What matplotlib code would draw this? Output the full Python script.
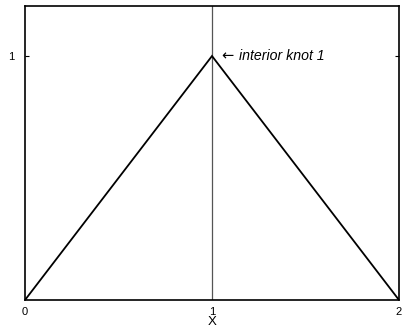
import matplotlib
matplotlib.use("Agg")
import matplotlib.pyplot as plt

# hat basis function on knots 0, 1, 2
knots = [0, 1, 2]
basis = [0, 1, 0]
interior_knot = 1
x_ticks = [0, 1, 2]
y_ticks = [1]

plt.rcParams['font.family'] = ['Liberation Sans', 'DejaVu Sans']

fig = plt.figure(figsize=(4.03, 3.35), dpi=100)
ax = fig.add_axes([25 / 403, 35 / 335, 374 / 403, 294 / 335])

ax.axvline(interior_knot, color='#555555', lw=0.9)
ax.plot(knots, basis, color='black', lw=1.3, solid_joinstyle='miter')

ax.set_xlim(0, 2)
ax.set_ylim(0, 1.205)
ax.set_xticks(x_ticks)
ax.set_yticks(y_ticks)
ax.tick_params(direction='in', length=3, width=0.8, labelsize=8,
               right=True, pad=8)
ax.tick_params(axis='x', length=0, pad=5)
for s in ax.spines.values():
    s.set_linewidth(1.2)

ax.set_xlabel('X', fontsize=9.5, labelpad=-1)
ax.text(interior_knot + 0.05, basis[1], '\u2190', family='DejaVu Sans',
        fontsize=10.5, va='center', ha='left')
ax.text(interior_knot + 0.143, basis[1], 'interior knot 1',
        fontsize=10.2, style='italic', va='center', ha='left')

fig.savefig('out.png', dpi=100)
